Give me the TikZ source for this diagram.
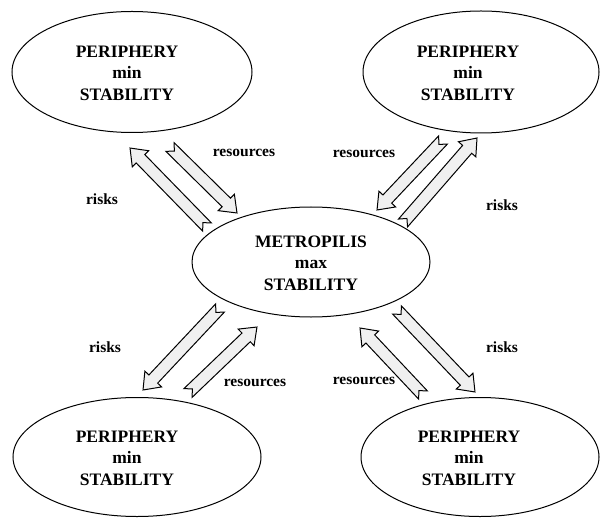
\documentclass[tikz,border=0pt]{standalone}
\usepackage{fontspec}
\setmainfont{Liberation Serif}
\usetikzlibrary{shapes.geometric,calc}
\tikzset{
  oval/.style={draw, line width=1pt, ellipse, inner sep=0pt},
  ovaltext/.style={align=center, font=\fontsize{17.5}{21.5}\selectfont\bfseries},
  lbl/.style={font=\fontsize{15.5}{18}\selectfont\bfseries},
  blockarrow/.style={draw, line width=1pt, fill=black!6, line join=miter}
}
\newcommand\blockarr[2]{%
  \path let \p1=($(#2)-(#1)$), \n1={atan2(\y1,\x1)}, \n2={veclen(\x1,\y1)} in
    \pgfextra{\xdef\barang{\n1}\xdef\barlen{\n2}};
  \begin{scope}[shift={(#1)}, rotate=\barang, x=1pt, y=1pt]
    \draw[blockarrow] (0,6) -- ({\barlen-15},6) -- ({\barlen-15},11.5) -- (\barlen,0)
      -- ({\barlen-15},-11.5) -- ({\barlen-15},-6) -- (0,-6) -- (6,0) -- cycle;
  \end{scope}}
\begin{document}
\begin{tikzpicture}[x=1pt, y=-1pt]
\useasboundingbox (0,0) rectangle (601,518);
% arrow end points
\coordinate (a1s) at (207,227); \coordinate (a1e) at (130,148);
\coordinate (a2s) at (170,147); \coordinate (a2e) at (237,213);
\coordinate (a3s) at (443,140); \coordinate (a3e) at (377,210);
\coordinate (a4s) at (403,223); \coordinate (a4e) at (477,138);
\coordinate (a5s) at (220,308); \coordinate (a5e) at (143,390);
\coordinate (a6s) at (188,393); \coordinate (a6e) at (257,327);
\coordinate (a7s) at (423,395); \coordinate (a7e) at (360,328);
\coordinate (a8s) at (397,310); \coordinate (a8e) at (475,392);
\blockarr{a1s}{a1e}
\blockarr{a2s}{a2e}
\blockarr{a3s}{a3e}
\blockarr{a4s}{a4e}
\blockarr{a5s}{a5e}
\blockarr{a6s}{a6e}
\blockarr{a7s}{a7e}
\blockarr{a8s}{a8e}
% ellipses
\node[oval, minimum width=240pt, minimum height=121pt] (tl) at (132,72) {};
\node[oval, minimum width=236pt, minimum height=122pt] (tr) at (481,72) {};
\node[oval, minimum width=238pt, minimum height=110pt] (m) at (311,262) {};
\node[oval, minimum width=248pt, minimum height=119pt] (bl) at (137,457) {};
\node[oval, minimum width=238pt, minimum height=119pt] (br) at (480,457) {};
% texts
\node[ovaltext] (tlt) at (127,73) {PERIPHERY\\min\\STABILITY};
\node[ovaltext] (trt) at (468,73) {PERIPHERY\\min\\STABILITY};
\node[ovaltext] (mt) at (311,263) {METROPILIS\\max\\STABILITY};
\node[ovaltext] (blt) at (127,458) {PERIPHERY\\min\\STABILITY};
\node[ovaltext] (brt) at (469,458) {PERIPHERY\\min\\STABILITY};
% labels
\node[lbl] (r1) at (244,153) {resources};
\node[lbl] (r2) at (364,154) {resources};
\node[lbl] (r3) at (255,383) {resources};
\node[lbl] (r4) at (364,381) {resources};
\node[lbl] (k1) at (102,199) {risks};
\node[lbl] (k2) at (502,205) {risks};
\node[lbl] (k3) at (105,347) {risks};
\node[lbl] (k4) at (502,347) {risks};
\end{tikzpicture}
\end{document}
